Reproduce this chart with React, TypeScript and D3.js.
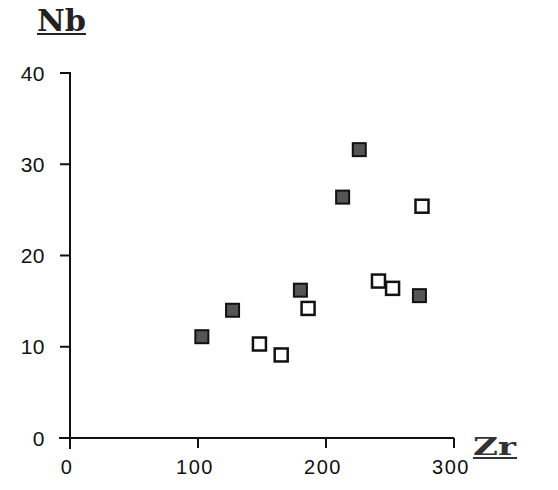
import React from "react";
import * as d3 from "d3";

const xTicks = [0, 100, 200, 300];
const yTicks = [0, 10, 20, 30, 40];
const xTickLabels = ["0", "100", "200", "300"];
const yTickLabels = ["0", "10", "20", "30", "40"];

const filledZr = [103, 127, 180, 213, 226, 273];
const filledNb = [11.1, 14.0, 16.2, 26.4, 31.6, 15.6];
const openZr = [148, 165, 186, 241, 252, 275];
const openNb = [10.3, 9.1, 14.2, 17.2, 16.4, 25.4];

const xTitle = "Zr";
const yTitle = "Nb";

export default function App() {
  const W = 558, H = 490;
  const x = d3.scaleLinear().domain([0, 300]).range([70, 454]);
  const y = d3.scaleLinear().domain([0, 40]).range([438, 73]);
  const s = 13;
  const tickFont = "'Liberation Sans', Arial, sans-serif";
  const titleFont = "'DejaVu Serif', serif";
  return (
    <svg width={W} height={H} style={{ position: "absolute", left: 0, top: 0, background: "#fff" }}>
      <rect width={W} height={H} fill="#fff" />
      <line x1={x(0)} x2={x(0)} y1={y(40) - 1} y2={y(0) + 11} stroke="#111" strokeWidth={2} />
      <line x1={x(0) - 11} x2={x(300)} y1={y(0)} y2={y(0)} stroke="#111" strokeWidth={2} />
      {yTicks.map((t, i) => (
        <g key={"y" + t}>
          <line x1={x(0) - 10} x2={x(0)} y1={y(t)} y2={y(t)} stroke="#111" strokeWidth={2} />
          <text x={45} y={y(t)} dy="0.36em" textAnchor="end" fontFamily={tickFont} fontSize={21} letterSpacing={0.5} fill="#111">
            {yTickLabels[i]}
          </text>
        </g>
      ))}
      {xTicks.map((t, i) => (
        <g key={"x" + t}>
          <line x1={x(t)} x2={x(t)} y1={y(0)} y2={y(0) + 10} stroke="#111" strokeWidth={2} />
          <text x={x(t) - 3} y={474} textAnchor="middle" fontFamily={tickFont} fontSize={20} letterSpacing={1.5} fill="#111">
            {xTickLabels[i]}
          </text>
        </g>
      ))}
      <text x={37} y={31} fontFamily={titleFont} fontWeight="bold" fontSize={29} textLength={49} lengthAdjust="spacingAndGlyphs" fill="#222">
        {yTitle}
      </text>
      <line x1={37} x2={86} y1={34} y2={34} stroke="#222" strokeWidth={2} />
      <text x={473} y={455} fontFamily={titleFont} fontWeight="bold" fontSize={24} textLength={43} lengthAdjust="spacingAndGlyphs" fill="#333">
        {xTitle}
      </text>
      <line x1={473} x2={517} y1={458} y2={458} stroke="#333" strokeWidth={2} />
      {filledZr.map((v, i) => (
        <rect key={"f" + i} x={x(v) - s / 2} y={y(filledNb[i]) - s / 2} width={s} height={s} fill="#555" stroke="#111" strokeWidth={2} />
      ))}
      {openZr.map((v, i) => (
        <rect key={"o" + i} x={x(v) - s / 2} y={y(openNb[i]) - s / 2} width={s} height={s} fill="#fff" stroke="#111" strokeWidth={2.5} />
      ))}
    </svg>
  );
}
